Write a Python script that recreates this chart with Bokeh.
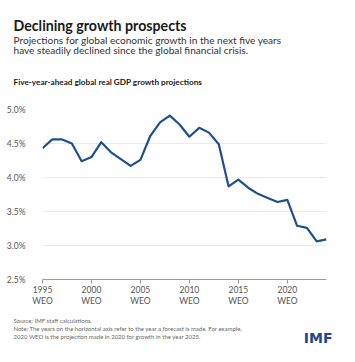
from bokeh.plotting import figure
from bokeh.models import FixedTicker, PrintfTickFormatter, Range1d, LinearAxis, Title
from bokeh.embed import file_html
from bokeh.resources import INLINE

# Data
years = list(range(1995, 2025))
growth = [4.43, 4.56, 4.56, 4.50, 4.24, 4.30, 4.52, 4.37, 4.27, 4.17,
          4.26, 4.61, 4.81, 4.91, 4.78, 4.60, 4.73, 4.66, 4.49, 3.87,
          3.97, 3.85, 3.76, 3.70, 3.64, 3.67, 3.29, 3.26, 3.06, 3.09]
x_ticks = [1995, 2000, 2005, 2010, 2015, 2020]
x_tick_labels = {y: str(y) for y in x_ticks}
x_tick_sublabels = {y: "WEO" for y in x_ticks}
y_ticks = [2.5, 3.0, 3.5, 4.0, 4.5, 5.0]

title = "Declining growth prospects"
subtitle = ["Projections for global economic growth in the next five years",
            "have steadily declined since the global financial crisis."]
chart_title = "Five-year-ahead global real GDP growth projections"
notes = ["Source: IMF staff calculations.",
         "Note: The years on the horizontal axis refer to the year a forecast is made. For example,",
         "2020 WEO is the projection made in 2020 for growth in the year 2025."]
logo = "IMF"

W, H = 355, 362
FL, FR, FT, FB = 42, 326, 109, 279
FONT = "Lato"

p = figure(width=W, height=H, output_backend="svg", toolbar_location=None,
           x_range=Range1d(1995, 2024), y_range=Range1d(2.5, 5.0),
           min_border_left=FL, min_border_right=W - FR,
           min_border_top=FT, min_border_bottom=H - FB)
p.outline_line_color = None
p.background_fill_color = "white"
p.border_fill_color = "white"

p.line(years, growth, line_color="#1d4f91", line_width=2.2, line_join="round")

p.xgrid.grid_line_color = None
p.ygrid.grid_line_color = "#ebebeb"
p.ygrid.grid_line_width = 1
p.ygrid.ticker = FixedTicker(ticks=y_ticks)

xa = p.xaxis[0]
xa.ticker = FixedTicker(ticks=x_ticks)
xa.major_label_overrides = x_tick_labels
xa.axis_line_color = "#9a9a9a"
xa.major_tick_line_color = "#9a9a9a"
xa.major_tick_out = 4
xa.major_tick_in = 0
xa.minor_tick_line_color = None
xa.major_label_standoff = 2
xa.major_label_text_font = FONT
xa.major_label_text_font_size = "8.5px"
xa.major_label_text_color = "#555555"

xb = LinearAxis(ticker=FixedTicker(ticks=x_ticks),
                major_label_overrides=x_tick_sublabels)
xb.axis_line_color = None
xb.major_tick_line_color = None
xb.minor_tick_line_color = None
xb.major_tick_out = 0
xb.major_tick_in = 0
xb.major_label_standoff = 0
xb.major_label_text_font = FONT
xb.major_label_text_font_size = "8.5px"
xb.major_label_text_color = "#555555"
p.add_layout(xb, "below")

ya = p.yaxis[0]
ya.ticker = FixedTicker(ticks=y_ticks)
ya.formatter = PrintfTickFormatter(format="%.1f%%")
ya.axis_line_color = None
ya.major_tick_line_color = None
ya.minor_tick_line_color = None
ya.major_label_standoff = 11
ya.major_label_text_font = FONT
ya.major_label_text_font_size = "8.5px"
ya.major_label_text_color = "#555555"


def title_panel(txt, side, size, color, standoff, bold=False, align="left",
                offset=None, font=FONT):
    if offset is None:
        offset = 13 - FL if align == "left" else FR - 332
    t = Title(text=txt, align=align, offset=offset, standoff=standoff,
              vertical_align="top", text_font=font, text_font_size=f"{size}px",
              text_color=color, text_font_style="bold" if bold else "normal")
    p.add_layout(t, side)


# Header, stacked from the frame upward
title_panel(chart_title, "above", 8.2, "#1a1a1a", 39.5, bold=True)
title_panel(subtitle[1], "above", 10.1, "#333333", 0.1)
title_panel(subtitle[0], "above", 10.1, "#333333", -7.9)
title_panel(title, "above", 14.2, "#1a1a1a", 1.6, bold=True)

# Footer, stacked from the axes downward
p.add_layout(Title(text=" ", text_font_size="1px", standoff=5.6), "below")
title_panel(notes[0], "below", 6.0, "#666666", -0.7)
title_panel(notes[1], "below", 6.0, "#666666", -0.7)
title_panel(notes[2], "below", 6.0, "#666666", -0.7)
title_panel(logo, "below", 14, "#1f4690", -23.4, bold=True, align="right",
            font="DejaVu Sans")

open("out.html", "w").write(file_html(p, INLINE))
